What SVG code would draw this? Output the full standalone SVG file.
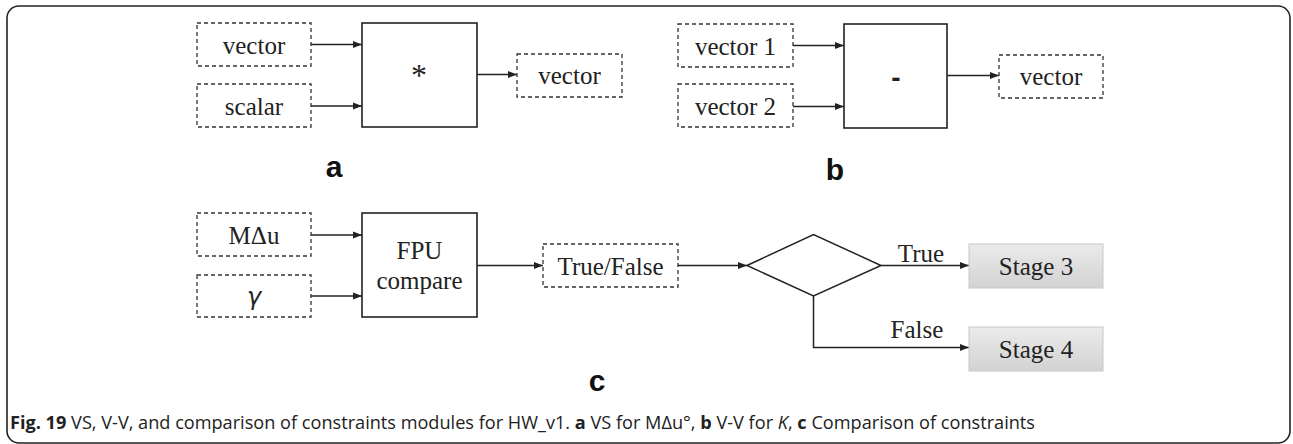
<svg xmlns="http://www.w3.org/2000/svg" width="1293" height="444" viewBox="0 0 1293 444">
<style>
.frame{fill:#fff;stroke:#222;stroke-width:1.6}
.solid{fill:#fff;stroke:#222;stroke-width:1.6}
.dash{fill:#fff;stroke:#333;stroke-width:1.3;stroke-dasharray:4 3}
.stage{fill:url(#gr);stroke:#c8c8c8;stroke-width:1}
.t{font-family:"Liberation Serif",serif;font-size:25px;fill:#222;text-anchor:middle}
.lab{font-family:"Liberation Sans",Arial,sans-serif;font-size:30px;font-weight:bold;fill:#111;text-anchor:middle}
.cap{font-family:"Open Sans",sans-serif;font-size:18px;fill:#222}
.ln{fill:none;stroke:#222;stroke-width:1.5}
</style>
<defs>
<linearGradient id="gr" x1="0" y1="0" x2="0" y2="1">
<stop offset="0" stop-color="#ebebeb"/>
<stop offset="1" stop-color="#d2d2d2"/>
</linearGradient>
<marker id="ah" markerWidth="10" markerHeight="8" refX="9" refY="4" orient="auto" markerUnits="userSpaceOnUse">
<path d="M0,0.5 L9,4 L0,7.5 Z" fill="#222"/>
</marker>
</defs>
<rect class="frame" x="7" y="6" width="1283" height="437" rx="12"/>
<g id="conn">
<path class="ln" marker-end="url(#ah)" d="M311,44.5 H362"/>
<path class="ln" marker-end="url(#ah)" d="M311,106 H362"/>
<path class="ln" marker-end="url(#ah)" d="M477,74.5 H517"/>
<path class="ln" marker-end="url(#ah)" d="M793,45.5 H844"/>
<path class="ln" marker-end="url(#ah)" d="M793,106.5 H844"/>
<path class="ln" marker-end="url(#ah)" d="M947,75.5 H999"/>
<path class="ln" marker-end="url(#ah)" d="M311,235 H362"/>
<path class="ln" marker-end="url(#ah)" d="M311,296 H362"/>
<path class="ln" marker-end="url(#ah)" d="M477,265.5 H543"/>
<path class="ln" marker-end="url(#ah)" d="M678,265.5 H747"/>
<path class="ln" marker-end="url(#ah)" d="M881,265.5 H969"/>
<path class="ln" marker-end="url(#ah)" d="M813.5,296 V347.5 H969"/>
<text class="t" x="921" y="262">True</text>
<text class="t" x="917" y="338">False</text>
</g>
<g id="a-vector"><rect class="dash" x="197" y="23" width="114" height="43"/><text class="t" x="254" y="54">vector</text></g>
<g id="a-scalar"><rect class="dash" x="197" y="84" width="114" height="43"/><text class="t" x="254" y="115">scalar</text></g>
<g id="a-mul"><rect class="solid" x="362" y="23" width="115" height="104"/><text class="t" x="419" y="86" style="font-size:32px">*</text></g>
<g id="a-out"><rect class="dash" x="517" y="54" width="105" height="43"/><text class="t" x="569.5" y="84">vector</text></g>
<text class="lab" x="334" y="177">a</text>
<g id="b-v1"><rect class="dash" x="678" y="24" width="115" height="43"/><text class="t" x="735.5" y="55">vector 1</text></g>
<g id="b-v2"><rect class="dash" x="678" y="84" width="115" height="43"/><text class="t" x="735.5" y="115">vector 2</text></g>
<g id="b-sub"><rect class="solid" x="844" y="24" width="103" height="104"/><text class="t" x="896" y="87" style="font-family:'Liberation Sans',sans-serif;font-weight:bold;font-size:28px">-</text></g>
<g id="b-out"><rect class="dash" x="999" y="55" width="104" height="43"/><text class="t" x="1051" y="85">vector</text></g>
<text class="lab" x="835" y="180">b</text>
<g id="c-mdu"><rect class="dash" x="197" y="213" width="114" height="43"/><text class="t" x="254" y="244">MΔu</text></g>
<g id="c-gamma"><rect class="dash" x="197" y="275" width="114" height="42"/><text class="t" x="254" y="305" style="font-family:'DejaVu Sans',sans-serif;font-style:italic;font-size:24px">γ</text></g>
<g id="c-fpu"><rect class="solid" x="362" y="213" width="115" height="104"/><text class="t" x="419.5" y="259">FPU</text><text class="t" x="419.5" y="289">compare</text></g>
<g id="c-tf"><rect class="dash" x="543" y="244" width="135" height="43"/><text class="t" x="610.5" y="275">True/False</text></g>
<g id="c-dec"><path class="ln" d="M747,265.5 L813.5,234.5 L881,265.5 L813.5,296 Z" fill="#fff"/></g>
<g id="c-s3"><rect class="stage" x="969" y="244" width="134" height="44"/><text class="t" x="1036" y="275">Stage 3</text></g>
<g id="c-s4"><rect class="stage" x="969" y="327" width="134" height="44"/><text class="t" x="1036" y="358">Stage 4</text></g>
<text class="lab" x="597" y="391">c</text>
<text class="cap" x="10" y="429" textLength="1025" lengthAdjust="spacingAndGlyphs"><tspan font-weight="bold">Fig. 19</tspan> VS, V-V, and comparison of constraints modules for HW_v1. <tspan font-weight="bold">a</tspan> VS for MΔu°, <tspan font-weight="bold">b</tspan> V-V for <tspan font-style="italic">K</tspan>, <tspan font-weight="bold">c</tspan> Comparison of constraints</text>
</svg>
